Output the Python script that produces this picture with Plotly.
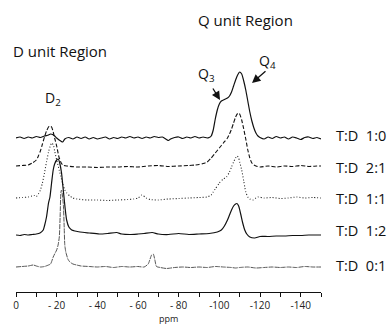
import plotly.graph_objects as go

# ---------------- data (ppm, intensity above each trace's baseline) ----------------
labels = ["T:D  1:0", "T:D  2:1", "T:D  1:1", "T:D  1:2", "T:D  0:1"]

ppm_10 = [0, -2, -4, -6, -8, -10, -12, -14, -16, -17, -18, -19, -20, -22, -23, -24, -26, -28, -30,
          -32, -34, -36, -38, -40, -42, -44, -46, -48, -50, -52, -54, -56, -58, -60, -62, -64, -66,
          -68, -70, -72, -74, -75, -76, -78, -80, -82, -84, -86, -88, -90, -92, -94,
          -95, -96, -97, -98, -99, -100, -101, -102, -103, -104, -105, -106, -107, -108, -109, -110,
          -111, -112, -113, -114, -115, -116, -117, -118, -119, -120,
          -122, -124, -126, -128, -130, -132, -134, -136, -138, -140, -142, -144, -146, -148, -150]
int_10 = [0, 1, -0.5, 1, 0, 1.5, 0.5, 2, 3, 4, 3.5, 2, 0, -3, -4, -1, 0.5, -1, 1,
          -0.5, 1, -1, 0.5, -1, 0, 1, -1, 0.5, -0.5, 1, 0, 1.5, 0, 1, -0.5, 1, 0,
          1.5, 0.5, 1, -1.5, -2.5, -1, 0.5, 1, -0.5, 1, 0, 1.5, 0, 1, 0,
          0.5, 2, 8, 19, 28, 34, 37, 38, 39, 40, 42, 46, 52, 58, 63, 66,
          64, 57, 48, 37, 26, 17, 10, 5, 2, 0.5,
          -1, 1, -0.5, 1.5, 0, 1, -1, 1, 0, -1.5, 0.5, 1, -0.5, 0.5, -1]

ppm_21 = [0, -3, -6, -8, -10, -11, -12, -13, -14, -15, -16, -16.7, -17.5, -18.3, -19, -20, -21, -22,
          -23, -25, -30, -35, -40, -45, -50, -55, -60, -65, -70, -75, -80, -85, -88, -90, -92, -94,
          -96, -98, -100, -102, -104, -105, -106, -107, -108, -109, -109.5, -110, -111, -112, -113,
          -114, -115, -116, -117, -118, -120, -124, -128, -132, -136, -140, -144, -148, -150]
int_21 = [0, 0.5, 1, 3, 6, 10, 15, 22, 29, 35, 39, 40, 39, 34, 28, 20, 10, 4,
          1, 0, -1, -1, -1.5, -1, -1, -0.5, -1, 0, 0.5, -0.5, 0, 0.5, 1, 1.5, 2.5, 4,
          8, 13, 18, 23, 28, 32, 37, 43, 49, 52.5, 53, 52, 46, 37, 27,
          16, 8, 3, 1, 0, -1, 0, -1, 0, -0.5, 0.5, -0.5, 0, 0]

ppm_11 = [0, -3, -6, -8, -9, -10, -11, -12, -13, -14, -15, -16, -17, -17.7, -18.5, -19, -20, -21,
          -22, -23, -24, -25, -26.5, -28, -30, -35, -40, -45, -50, -55, -58, -60, -62, -64, -66,
          -70, -75, -80, -85, -90, -94, -96, -97, -98, -100, -102, -103.5, -105, -106, -107, -108,
          -108.8, -109.5, -110, -111, -112, -112.5, -113, -114, -115, -116.5, -118, -119, -122,
          -126, -130, -134, -138, -142, -146, -150]
int_11 = [0, 0.5, 1, 2, 2.5, 1.5, 4, 8, 15, 25, 36, 46, 53, 55, 52, 47, 38, 30,
          22, 14, 8, 5, 2, 0, -1, -2, -2, -2.5, -2, -1.5, -1, 0, 3, 0, -1.5,
          -2, -1, -0.5, 0, 0.5, 1, 3, 6, 9, 15, 19, 21, 26, 31, 36, 40,
          42, 40, 36, 28, 17, 11, 6, 1, -1, -2, 0, 1, 0,
          0.5, -0.5, 0, 1, 0, 0.5, 0]

ppm_12 = [0, -2, -4, -6, -8, -10, -11.8, -13.4, -14, -15, -16, -16.7, -17.5, -18.3, -19, -20, -20.8,
          -21.5, -22.4, -23, -23.6, -24.2, -24.9, -26, -27.4, -29, -31.5, -36, -41, -45, -49.5, -52,
          -56, -60, -63, -67, -70, -75, -80, -85, -90, -95, -99, -101, -102.5, -104, -105, -106,
          -107, -108, -108.6, -109.5, -110.5, -111.5, -112.5, -113.5, -115, -117.4, -120, -124,
          -128, -132, -136, -140, -144, -148, -150]
int_12 = [0, -0.5, 0.5, 0, 0.5, 1, 2, 5, 9, 18, 32, 38, 52, 65, 71, 75, 76,
          72, 62, 50, 38, 26, 15, 8, 5, 4, 3, 2, 1, 1.5, 2.5, 1,
          0.5, 1, 1.5, 2.5, 1, 0.5, 1.5, 0.5, 1, 1.5, 3, 5, 9, 15, 20, 25,
          29, 31, 31.5, 29, 21, 12, 5, 1, -2, -3, -1.5, -1.5,
          -1, -1, -0.5, -0.5, 0, 0, 0]

ppm_01 = [0, -3, -6, -8.5, -10, -12, -14, -16, -17, -18.3, -19, -20, -20.7, -21.3, -21.7, -22.1,
          -22.4, -22.8, -23.3, -23.7, -24, -24.5, -24.9, -25.5, -26.5, -28, -29.8, -32, -36, -40,
          -44, -48, -52, -56, -60, -63, -65, -66.7, -67.5, -68.3, -69.1, -71, -74, -78, -82, -86,
          -90, -94, -98, -102, -106, -108, -110, -114, -118, -122, -126, -130, -134, -138, -142,
          -146, -150]
int_01 = [0, 0.5, 1, 2, 1, 0, 0.5, 2, 3, 10, 13, 17, 22, 30, 50, 75,
          77, 72, 62, 40, 22, 15, 12, 8, 5, 3, 2, 1, 0.5, 0,
          0.5, -0.5, 0.5, 0, 0.5, 0, 3, 12, 13, 7, 0.5, -0.5, -1.5, -0.5, 0, -0.5,
          0, -0.5, 0.5, 0, -0.5, -1, -0.5, 0, -1, -0.5, 0, -0.5, 0, -0.5, 0.5,
          0, 0]

# ---------------- layout / style ----------------
W, H = 391, 324
ML, MR, MT, MB = 16, 70, 0, 32
PW, PH = W - ML - MR, H - MT - MB

offsets = [154, 126, 94, 57, 25]            # baseline of each trace (y units = px above axis)
label_y = [157, 125, 94, 62, 27]
styles = [dict(color="#111", width=1.2, dash="solid"),
          dict(color="#111", width=1.1, dash="4px,2px"),
          dict(color="#222", width=1.1, dash="1px,2px"),
          dict(color="#111", width=1.2, dash="solid"),
          dict(color="#555", width=1.0, dash="5px,1px")]

series = [(ppm_10, int_10), (ppm_21, int_21), (ppm_11, int_11), (ppm_12, int_12), (ppm_01, int_01)]

FONT = "Open Sans"

def px(xp):
    return (xp - ML) / PW

def py(yp):
    return (H - MB - yp) / PH

fig = go.Figure()
for (xs, ys), off, st in zip(series, offsets, styles):
    fig.add_trace(go.Scatter(x=xs, y=[v + off for v in ys], mode="lines",
                             line=dict(shape="spline", smoothing=0.6, **st),
                             showlegend=False, hoverinfo="skip"))

ann = []
for lab, ly in zip(labels, label_y):
    ann.append(dict(text=lab, xref="paper", yref="y", x=px(334), y=ly, xanchor="left",
                    yanchor="middle", showarrow=False, font=dict(size=14.5, color="#111", family=FONT)))

ann += [
    dict(text="D unit Region", xref="paper", yref="paper", x=px(11), y=py(51), xanchor="left",
         yanchor="middle", showarrow=False, font=dict(size=15, color="#111", family=FONT)),
    dict(text="Q unit Region", xref="paper", yref="paper", x=px(196), y=py(20), xanchor="left",
         yanchor="middle", showarrow=False, font=dict(size=15, color="#111", family=FONT)),
    dict(text="D<sub>2</sub>", xref="paper", yref="paper", x=px(43), y=py(98), xanchor="left",
         yanchor="middle", showarrow=False, font=dict(size=14, color="#111", family=FONT)),
    dict(text="Q<sub>3</sub>", xref="paper", yref="paper", x=px(196), y=py(74), xanchor="left",
         yanchor="middle", showarrow=False, font=dict(size=14, color="#111", family=FONT)),
    dict(text="Q<sub>4</sub>", xref="paper", yref="paper", x=px(257), y=py(62), xanchor="left",
         yanchor="middle", showarrow=False, font=dict(size=14, color="#111", family=FONT)),
    dict(text="", xref="paper", yref="paper", x=px(220), y=py(100), ax=-8, ay=-13,
         showarrow=True, arrowhead=2, arrowsize=1.3, arrowwidth=1.3, arrowcolor="#111"),
    dict(text="", xref="paper", yref="paper", x=px(252), y=py(83), ax=15, ay=-13,
         showarrow=True, arrowhead=2, arrowsize=1.3, arrowwidth=1.3, arrowcolor="#111"),
    dict(text="ppm", xref="paper", yref="paper", x=0.5, y=py(318), xanchor="center",
         yanchor="middle", showarrow=False, font=dict(size=9, color="#222", family=FONT)),
]

tick_vals = [0, -20, -40, -60, -80, -100, -120, -140]
tick_text = ["0", "- 20", "- 40", "- 60", "- 80", "-100", "-120", "-140"]

fig.update_layout(
    width=W, height=H, margin=dict(l=ML, r=MR, t=MT, b=MB),
    paper_bgcolor="white", plot_bgcolor="white",
    font=dict(family=FONT, color="#111"),
    xaxis=dict(range=[0, -150], showgrid=False, zeroline=False, showline=True, linecolor="#111",
               linewidth=1, ticks="outside", ticklen=4, tickwidth=1, tickcolor="#111",
               tickvals=tick_vals, ticktext=tick_text, tickfont=dict(size=10, color="#222"),
               minor=dict(tickvals=[-10, -30, -50, -70, -90, -110, -130, -150], ticks="outside",
                          ticklen=4, tickwidth=1, tickcolor="#111")),
    yaxis=dict(range=[0, PH], visible=False, showgrid=False, zeroline=False),
    annotations=ann,
)

fig.write_html("out.html")
